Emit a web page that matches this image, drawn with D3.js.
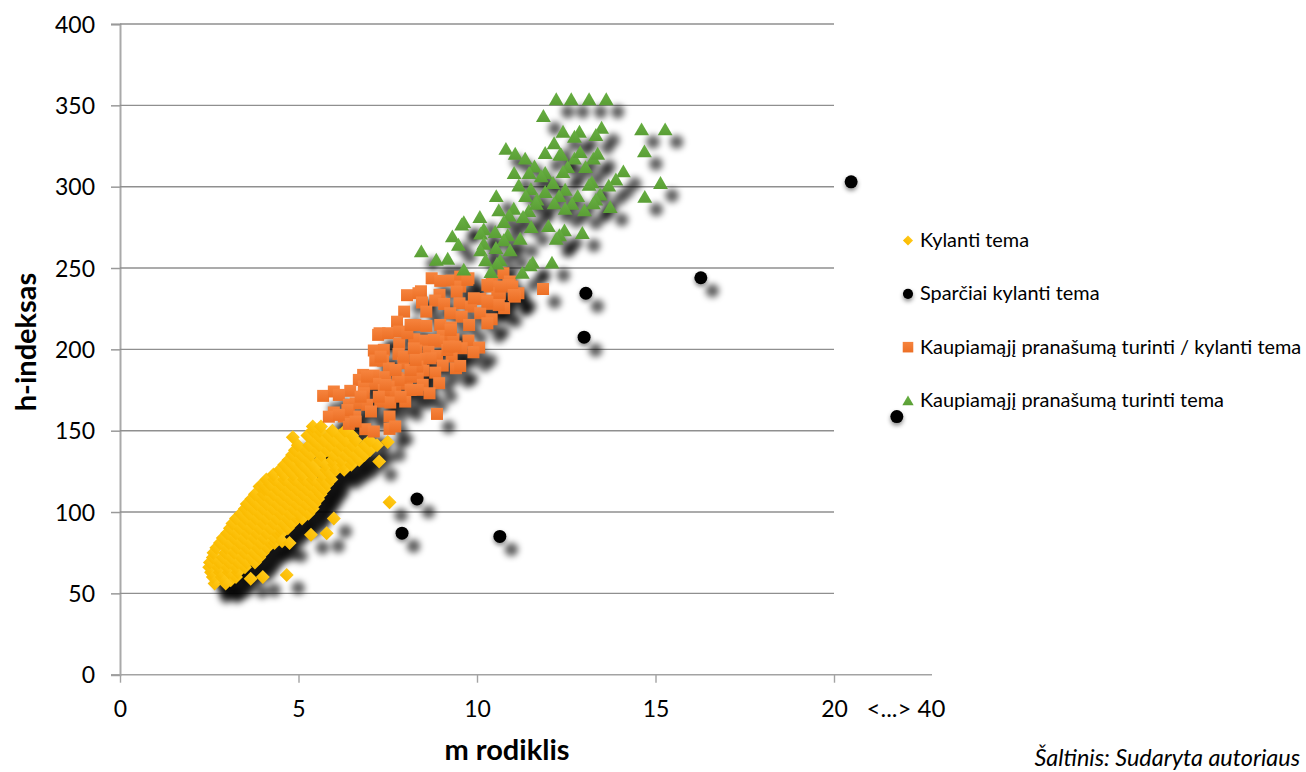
<!DOCTYPE html>
<html>
<head>
<meta charset="utf-8">
<script src="https://cdnjs.cloudflare.com/ajax/libs/d3/7.8.5/d3.min.js"></script>
<style>
  html, body { margin: 0; padding: 0; background: #fff; overflow: hidden; }
  text { font-family: Lato, "Open Sans", sans-serif; fill: #000; }
</style>
</head>
<body>
<svg id="chart" width="1306" height="772"></svg>
<script>
// [m, h]
const kylanti = [
  [2.72,58],[2.95,58],[3.1,58],[2.65,56],[2.96,56],[2.6,60],[2.85,60],[3.25,60],
  [2.55,63],[2.8,63],[3.05,63],[3.3,63],[2.5,66],[2.75,66],[3,66],[3.25,66],[3.5,66],
  [2.52,69],[2.78,69],[3.05,69],[3.3,69],[3.55,69],[3.78,69],
  [2.6,72],[2.88,72],[3.12,72],[3.4,72],[3.66,72],[3.9,72],
  [2.62,75],[2.95,75],[3.2,75],[3.48,75],[3.75,75],[4,75],
  [2.7,78],[2.98,78],[3.27,78],[3.55,78],[3.85,78],[4.12,78],
  [2.8,81],[3.05,81],[3.35,81],[3.63,81],[3.92,81],[4.2,81],[4.33,81],
  [2.88,84],[3.18,84],[3.45,84],[3.75,84],[4.02,84],[4.32,84],
  [3,87],[3.25,87],[3.55,87],[3.82,87],[4.1,87],[4.4,87],[4.52,87],
  [3.08,90],[3.35,90],[3.62,90],[3.9,90],[4.2,90],[4.5,90],[4.7,90],
  [3.15,93],[3.45,93],[3.72,93],[4,93],[4.3,93],[4.58,93],[4.82,93],
  [3.25,96],[3.52,96],[3.8,96],[4.08,96],[4.38,96],[4.68,96],[4.95,96],[5.1,96],
  [3.38,99],[3.62,99],[3.9,99],[4.18,99],[4.48,99],[4.75,99],[5.02,99],[5.28,99],
  [3.5,102],[3.72,102],[4,102],[4.28,102],[4.55,102],[4.85,102],[5.12,102],[5.4,102],
  [3.55,105],[3.82,105],[4.1,105],[4.38,105],[4.65,105],[4.93,105],[5.2,105],[5.45,105],
  [3.68,108],[3.95,108],[4.2,108],[4.48,108],[4.75,108],[5.02,108],[5.3,108],[5.55,108],
  [3.78,111],[4.02,111],[4.3,111],[4.58,111],[4.85,111],[5.12,111],[5.4,111],[5.62,111],
  [3.91,115.7],[4.05,114],[4.12,114],[4.4,114],[4.68,114],[4.95,114],[5.22,114],[5.5,114],[5.72,114],
  [4,117],[4.2,117],[4.5,117],[4.78,117],[5.05,117],[5.32,117],[5.58,117],[5.8,117],
  [4.1,120],[4.32,120],[4.6,120],[4.88,120],[5.15,120],[5.4,120],[5.68,120],[5.92,120],
  [4.3,123],[4.58,123],[4.85,123],[5.1,123],[5.38,123],[5.65,123],[5.9,123],
  [4.48,126],[4.72,126],[4.98,126],[5.25,126],[5.5,126],[5.78,126],[6.05,126],[6.28,126],
  [4.6,129],[4.85,129],[5.1,129],[5.38,129],[5.75,129],[6,129],[6.25,129],[6.48,129],
  [4.72,132],[5,132],[5.25,132],[5.6,132],[5.95,132],[6.2,132],[6.5,132],[6.7,132],
  [4.82,135],[5.08,135],[5.35,135],[5.65,135],[5.98,135],[6.3,135],[6.58,135],[6.85,135],
  [4.9,138],[5.2,138],[5.5,138],[5.8,138],[6.1,138],[6.42,138],[6.7,138],[7,138],
  [4.98,141],[5.3,141],[5.58,141],[5.88,141],[6.2,141],[6.5,141],[6.85,141],[7.2,141],
  [5.42,144],[5.7,144],[6,144],[6.3,144],[6.6,144],[7,144],
  [5.25,147],[5.55,147],[5.85,147],[6.15,147],[6.5,147],[5.4,150],[5.6,150],[5.95,150],[6.3,150],
  [4.84,146],[5.4,152.6],[5.63,152.6],[7.5,143],[7.26,131],[7.55,106],[5.99,96],[5.35,86],[5.79,87],
  [4.54,82],[4.75,81],[3.66,59],[4,60],[4.67,61.3]
];

const sparciai = [
  [20.48,303],[21.76,158.7],[16.27,244],[13.05,234.5],[13,207.5],[8.32,108],[7.9,87],[10.64,85]
];

const kaupiamasKylanti = [
  [8.73,243.7],[8.97,242.1],[9.29,242.3],[9.53,244.7],[9.76,243.7],[10.74,246.8],[10.41,241.7],[10.92,241.7],
  [9.53,238.6],[10.36,238.6],[10.88,239.6],[11.16,234.5],[8.04,233.3],[8.43,235.7],[8.36,234.5],[8.95,233.5],
  [9.43,235.5],[10.09,231],[10.64,233.9],[11.06,232.4],[11.85,237.1],[8.46,228.8],[8.83,230],[9.08,227.9],
  [9.51,228.3],[9.83,226.3],[10.41,230],[10.36,228],[10.76,225.3],[7.96,223.2],[8.58,223.2],[9.25,222.2],
  [10.09,222.2],[9.57,220.1],[10.41,218.5],[10.29,216],[9.78,215],[7.76,217],[8.97,215],[8.27,215],
  [8.58,214.4],[9.27,213.4],[7.27,209.9],[7.23,208.9],[7.51,209.9],[7.82,210.9],[9.04,208.3],[8.24,206.2],
  [8.55,205.4],[9.34,206.2],[9.76,205.4],[8.92,204.8],[7.82,203.4],[7.11,199.3],[7.39,199.7],[7.8,197.2],
  [8.3,199.3],[8.64,198.6],[8.88,196],[9.57,200.7],[10.06,201.1],[9.9,198.2],[9.29,195.6],[8.43,194.1],
  [7.15,193.1],[7.37,193.1],[7.94,191.5],[7.53,188.4],[9.04,190],[9.41,188.4],[9.53,189.8],[8.5,187],
  [8.83,185.7],[8.34,183.3],[6.81,184.3],[6.69,181.2],[7.11,183.9],[7.43,182.9],[7.78,182.3],[8.04,178.8],
  [8.94,179.2],[8.48,178.2],[6.83,177.1],[7.15,178.8],[7.71,177.1],[8.34,175.1],[5.69,171.4],[5.99,174.1],
  [6.13,172],[6.45,174.5],[6.83,173],[7.57,173.4],[8.67,173],[7.99,167.9],[6.41,165.9],[6.92,165.9],
  [7.29,167.9],[7.57,167.3],[5.99,161.2],[6.27,158.7],[6.59,158.7],[7.03,161.8],[7.55,158.7],[8.88,160.3],
  [6.41,154.2],[6.87,150.9],[7.11,149.5],[7.55,151.1],[7.71,152.6],
  [6.6,166.8],[7.39,175],[7.44,178.1],[7.86,181.2],[8.14,175],[7.25,170.9],[6.74,170.9],[7.86,170.9],
  [8.14,183.2],[8.33,189.4],[8.14,187.3],[7.72,187.3],[6.92,183.2],[7.95,195.5],[8.23,200.6],[8.7,194.5],
  [9.17,199.6],[8.28,193.5],[7.3,195.5],[8.05,209.9],[8.14,215],[8.79,205.8],[9.21,201.7],[9.4,201.7],
  [9.91,231.4],[10.57,234.5],[10.29,239.6],[10.99,238.6],[9.73,242.7],[10.66,238.6],[11.03,233.4],[10.61,227.3],
  [10.29,229.3],[6.37,162.7],[5.85,158.6],[6.13,159.7],[6.6,155.6],[9.26,211.9]
];

const kaupiamas = [
  [12.22,354],[12.64,354],[13.14,354],[13.62,354],[11.86,343.7],[12.41,334],[12.87,334],[12.73,331],
  [13.49,336.5],[13.33,332],[14.61,335.5],[15.27,335.5],[14.69,322],[12.16,327],[10.81,323.5],[11.07,320.5],
  [11.35,317.5],[11.91,321],[12.32,320],[12.36,320],[12.73,317.5],[12.89,321.5],[13.26,317.5],[13.38,320.5],
  [11.61,312.7],[11.91,308.7],[11.04,308.7],[11.46,308.7],[11.8,306.6],[12.54,312.3],[12.41,309.3],[13.04,312.3],
  [14.1,309.7],[13.89,304.7],[13.69,300.9],[13.22,303],[13.14,301.4],[11.17,301],[11.51,298.8],[12.13,302.5],
  [11.91,297],[12.47,298.4],[15.14,302.5],[14.7,294],[11.36,294.5],[11.68,292.3],[12.3,294.5],[12.82,294.5],
  [13.45,295.4],[13.33,292.3],[10.54,294.5],[12.16,290],[12.66,289.8],[12.47,286.7],[13.01,285.7],[13.73,287.7],
  [13.26,290],[11.03,286.7],[10.61,285.7],[11.45,285.3],[10.9,282.6],[11.66,289.8],[11.29,281.6],[10.08,281.6],
  [9.63,278.5],[9.57,277],[10.75,278.5],[10.19,274],[10.1,271.4],[10.51,272.4],[11.52,275.5],[12,276],
  [12.45,273.4],[12.95,271.8],[9.31,269.7],[10.86,270.4],[10.75,267.3],[11.21,268.3],[12.31,270.4],[12.22,268.3],
  [9.48,264.6],[10.19,265.2],[10.1,261.1],[10.53,262.6],[10.93,261.1],[8.86,255.4],[9.18,256],[10.24,255],
  [10.65,255],[10.56,253],[11.56,253.6],[11.49,251.9],[12.1,253.6],[9.63,249.3],[10.39,247.8],[11.27,247.3],
  [8.44,260.5]
];

const xTicks = [0, 5, 10, 15, 20];
const yTicks = [0, 50, 100, 150, 200, 250, 300, 350, 400];
const legendLabels = ["Kylanti tema", "Sparčiai kylanti tema", "Kaupiamąjį pranašumą turinti / kylanti tema", "Kaupiamąjį pranašumą turinti tema"];

let svg = d3.select("#chart");
let x = d3.scaleLinear().domain([0, 20]).range([120, 834]);
let y = d3.scaleLinear().domain([0, 400]).range([674.7, 24]);

let defs = svg.append("defs");
defs.append("clipPath").attr("id", "plot-clip")
  .append("rect").attr("x", 120).attr("y", 20).attr("width", 714).attr("height", 680);
defs.append("filter").attr("id", "soft").attr("x", "-5%").attr("y", "-5%").attr("width", "110%").attr("height", "110%")
  .append("feGaussianBlur").attr("stdDeviation", 3);
let small = defs.append("filter").attr("id", "small-shadow").attr("x", "-60%").attr("y", "-60%").attr("width", "220%").attr("height", "240%");
small.append("feDropShadow").attr("dx", 0).attr("dy", 2.5).attr("stdDeviation", 2).attr("flood-color", "#000").attr("flood-opacity", 0.45);

function gradient(id, top, bottom) {
  let g = defs.append("linearGradient").attr("id", id).attr("x1", 0).attr("y1", 0).attr("x2", 0).attr("y2", 1);
  g.append("stop").attr("offset", "0%").attr("stop-color", top);
  g.append("stop").attr("offset", "100%").attr("stop-color", bottom);
}
gradient("g-yellow", "#ffc818", "#fabb00");
gradient("g-orange", "#f6843e", "#ec6f25");
gradient("g-green", "#68b043", "#5a9e35");

// gridlines + y axis
let yAxisG = svg.append("g")
  .attr("transform", "translate(120,0)")
  .call(d3.axisLeft(y).tickValues(yTicks).tickSize(9).tickPadding(16));
yAxisG.select(".domain").attr("stroke", "#a9a9a9").attr("stroke-width", 2);
yAxisG.selectAll(".tick line").attr("stroke", "#999").attr("stroke-width", 1.5);
yAxisG.selectAll(".tick text").style("font-size", "23px").attr("fill", "#000").attr("dy", "0.36em");

svg.append("g").selectAll("line")
  .data(yTicks.slice(1))
  .enter()
  .append("line")
  .attr("x1", 120)
  .attr("x2", x(20))
  .attr("y1", function (d) { return y(d); })
  .attr("y2", function (d) { return y(d); })
  .attr("stroke", "#8f8f8f")
  .attr("stroke-width", 1.4);

// x axis
let xAxisG = svg.append("g")
  .attr("transform", "translate(0," + y(0) + ")")
  .call(d3.axisBottom(x).tickValues(xTicks).tickSize(8).tickPadding(18).tickSizeOuter(0));
xAxisG.select(".domain").remove();
xAxisG.append("line").attr("x1", 111).attr("x2", 932).attr("stroke", "#a3a3a3").attr("stroke-width", 1.6);
xAxisG.selectAll(".tick line").attr("stroke", "#a3a3a3").attr("stroke-width", 1.4);
xAxisG.selectAll(".tick text").style("font-size", "23px").attr("fill", "#000");
svg.append("text").attr("x", 906).attr("y", 717).attr("text-anchor", "middle").style("font-size", "24px").text("<...> 40");

const series = [
  { data: sparciai, shape: "circle" },
  { data: kylanti, shape: "diamond" },
  { data: kaupiamasKylanti, shape: "square" },
  { data: kaupiamas, shape: "triangle" }
];

// blurred offset shadows under every marker
let shadow = svg.append("g").attr("clip-path", "url(#plot-clip)")
  .append("g").attr("filter", "url(#soft)");
series.forEach(function (s) {
  shadow.selectAll(null)
    .data(s.data)
    .enter()
    .append("circle")
    .attr("cx", function (d) { return x(d[0]) + 11.5; })
    .attr("cy", function (d) { return y(d[1]) + 13; })
    .attr("r", 6.8)
    .attr("fill", "#000")
    .attr("fill-opacity", 0.62);
});

let square = d3.symbol().type(d3.symbolSquare);
let triangle = d3.symbol().type(d3.symbolTriangle);

function drawMarker(sel, shape, k) {
  if (shape == "circle") {
    sel.append("circle").attr("r", 6.5 * k).attr("fill", "#000").attr("filter", "url(#small-shadow)");
  } else if (shape == "diamond") {
    sel.append("path").attr("d", square.size(98 * k * k)()).attr("transform", "rotate(45)").attr("fill", "url(#g-yellow)");
  } else if (shape == "square") {
    sel.append("path").attr("d", square.size(144 * k * k)()).attr("fill", "url(#g-orange)");
  } else {
    sel.append("path").attr("d", triangle.size(96 * k * k)()).attr("transform", "translate(0," + 2.1 * k + ")").attr("fill", "url(#g-green)");
  }
}

series.forEach(function (s) {
  let marks = svg.append("g").selectAll("g")
    .data(s.data)
    .enter()
    .append("g")
    .attr("transform", function (d) { return "translate(" + x(d[0]) + "," + y(d[1]) + ")"; });
  drawMarker(marks, s.shape, 1);
});

// legend
const legendShapes = ["diamond", "circle", "square", "triangle"];
const legendScale = [0.72, 0.78, 0.88, 0.76];
let legendY = d3.scalePoint().domain(legendLabels).range([240.5, 400.5]);
legendLabels.forEach(function (label, i) {
  let row = svg.append("g").attr("transform", "translate(908," + legendY(label) + ")");
  drawMarker(row, legendShapes[i], legendScale[i]);
  row.append("text").attr("x", 12).attr("y", 6.5).style("font-size", "19.9px").text(label);
});

// titles
svg.append("text").attr("x", 507).attr("y", 760).attr("text-anchor", "middle")
  .style("font-size", "29px").style("font-weight", "bold").text("m rodiklis");
svg.append("text").attr("transform", "translate(36,342) rotate(-90)").attr("text-anchor", "middle")
  .style("font-size", "29px").style("font-weight", "bold").text("h-indeksas");
svg.append("text").attr("x", 1300).attr("y", 766).attr("text-anchor", "end")
  .style("font-size", "23.4px").style("font-style", "italic").text("Šaltinis: Sudaryta autoriaus");
</script>
</body>
</html>
